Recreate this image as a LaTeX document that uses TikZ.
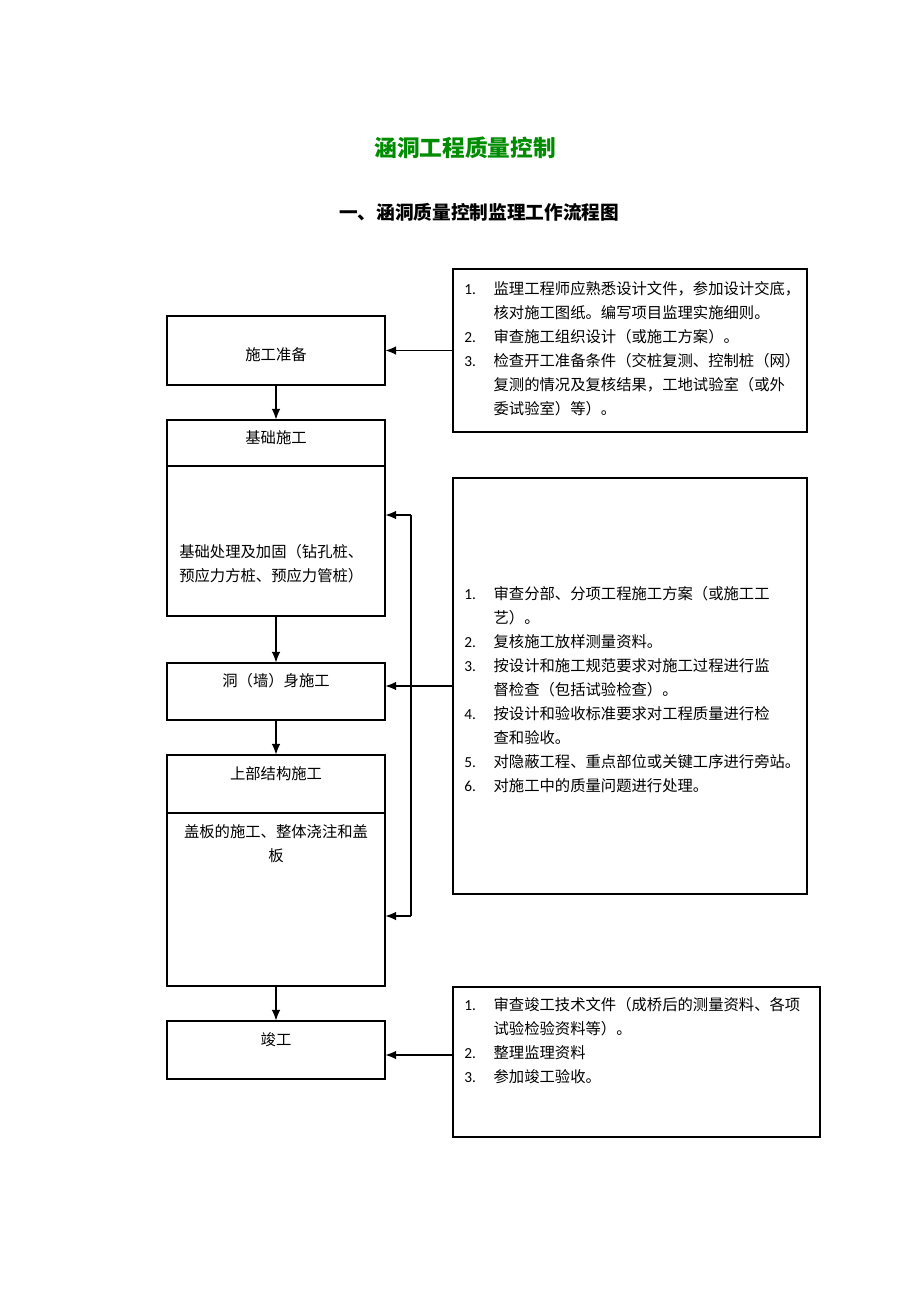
\documentclass[tikz,border=0pt]{standalone}
\usepackage{fontspec}
\setmainfont{Noto Sans CJK SC}
\newfontfamily\numfont{Carlito}
\usepackage{tikz}
\usetikzlibrary{arrows.meta}
\definecolor{titlegreen}{RGB}{0,140,0}

% list helpers
\newcommand{\num}[1]{\makebox[22pt][l]{\numfont #1.}}
\newcommand{\cont}{\hspace*{22pt}}

\tikzset{
  frame/.style={draw, line width=0.8pt, inner sep=0pt, minimum width=163.5pt},
  note/.style={draw, line width=0.8pt, inner sep=0pt},
  lbl/.style={font=\fontsize{11.5}{18}\selectfont, inner sep=0pt},
  listtxt/.style={font=\fontsize{11.5}{18}\selectfont, align=left, inner sep=0pt, anchor=west},
  >={Latex[length=8pt,width=6.5pt]}
}

\begin{document}
\begin{tikzpicture}[x=0.75pt, y=-0.75pt]
    \useasboundingbox (0,0) rectangle (920,1302);

    % titles
    \node [font=\fontsize{17}{20}\selectfont\bfseries, text=titlegreen] (title) at (465,148) {涵洞工程质量控制};
    \node [font=\fontsize{14}{17}\selectfont\bfseries] (subtitle) at (479,212) {一、涵洞质量控制监理工作流程图};

    % left column
    \node [frame, minimum height=51.75pt] (prep) at (276,350.5) {};
    \node [frame, minimum height=147pt] (base) at (276,518) {};
    \node [frame, minimum height=42.75pt] (body) at (276,691.5) {};
    \node [frame, minimum height=173.25pt] (super) at (276,870.5) {};
    \node [frame, minimum height=43.5pt] (done) at (276,1050) {};
    \draw [line width=0.8pt] (167,466) -- (385,466);
    \draw [line width=0.8pt] (167,813) -- (385,813);

    \node [lbl] (prepT) at (276,355) {施工准备};
    \node [lbl] (baseT) at (276,438) {基础施工};
    \node [lbl, align=left, anchor=west] (baseB) at (179,563.5) {基础处理及加固（钻孔桩、\\预应力方桩、预应力管桩）};
    \node [lbl] (bodyT) at (276,681) {洞（墙）身施工};
    \node [lbl] (superT) at (276,774) {上部结构施工};
    \node [lbl, align=center] (superB) at (276,844) {盖板的施工、整体浇注和盖\\板};
    \node [lbl] (doneT) at (276,1040) {竣工};

    % right column
    \node [note, minimum width=265.5pt, minimum height=122.25pt] (rev1) at (630,350.5) {};
    \node [note, minimum width=265.5pt, minimum height=312pt] (rev2) at (630,686) {};
    \node [note, minimum width=275.25pt, minimum height=112.5pt] (rev3) at (636.5,1062) {};

    \node [listtxt] (list1) at (464,349) {%
      \num{1}监理工程师应熟悉设计文件，参加设计交底，\\
      \cont 核对施工图纸。编写项目监理实施细则。\\
      \num{2}审查施工组织设计（或施工方案）。\\
      \num{3}检查开工准备条件（交桩复测、控制桩（网）\\
      \cont 复测的情况及复核结果，工地试验室（或外\\
      \cont 委试验室）等）。};
    \node [listtxt] (list2) at (464,689.5) {%
      \num{1}审查分部、分项工程施工方案（或施工工\\
      \cont 艺）。\\
      \num{2}复核施工放样测量资料。\\
      \num{3}按设计和施工规范要求对施工过程进行监\\
      \cont 督检查（包括试验检查）。\\
      \num{4}按设计和验收标准要求对工程质量进行检\\
      \cont 查和验收。\\
      \num{5}对隐蔽工程、重点部位或关键工序进行旁站。\\
      \num{6}对施工中的质量问题进行处理。};
    \node [listtxt] (list3) at (464,1040.5) {%
      \num{1}审查竣工技术文件（成桥后的测量资料、各项\\
      \cont 试验检验资料等）。\\
      \num{2}整理监理资料\\
      \num{3}参加竣工验收。};

    % flow
    \draw [->, line width=0.8pt] (prep.south) -- (base.north);
    \draw [->, line width=0.8pt] (base.south) -- (body.north);
    \draw [->, line width=0.8pt] (body.south) -- (super.north);
    \draw [->, line width=0.8pt] (super.south) -- (done.north);

    \draw [->, line width=0.8pt] (rev1.west) -- (prep.east);
    \draw [->, line width=0.8pt] (rev2.west) -- (rev2.west -| body.east);
    \coordinate (r3) at ([yshift=5.25pt]rev3.west);
    \draw [->, line width=0.8pt] (r3) -- (r3 -| done.east);

    \coordinate (bt) at (411,515);
    \coordinate (bb) at (411,916);
    \draw [line width=0.8pt] (bt) -- (bb);
    \draw [->, line width=0.8pt] (bt) -- (bt -| base.east);
    \draw [->, line width=0.8pt] (bb) -- (bb -| super.east);
\end{tikzpicture}
\end{document}
